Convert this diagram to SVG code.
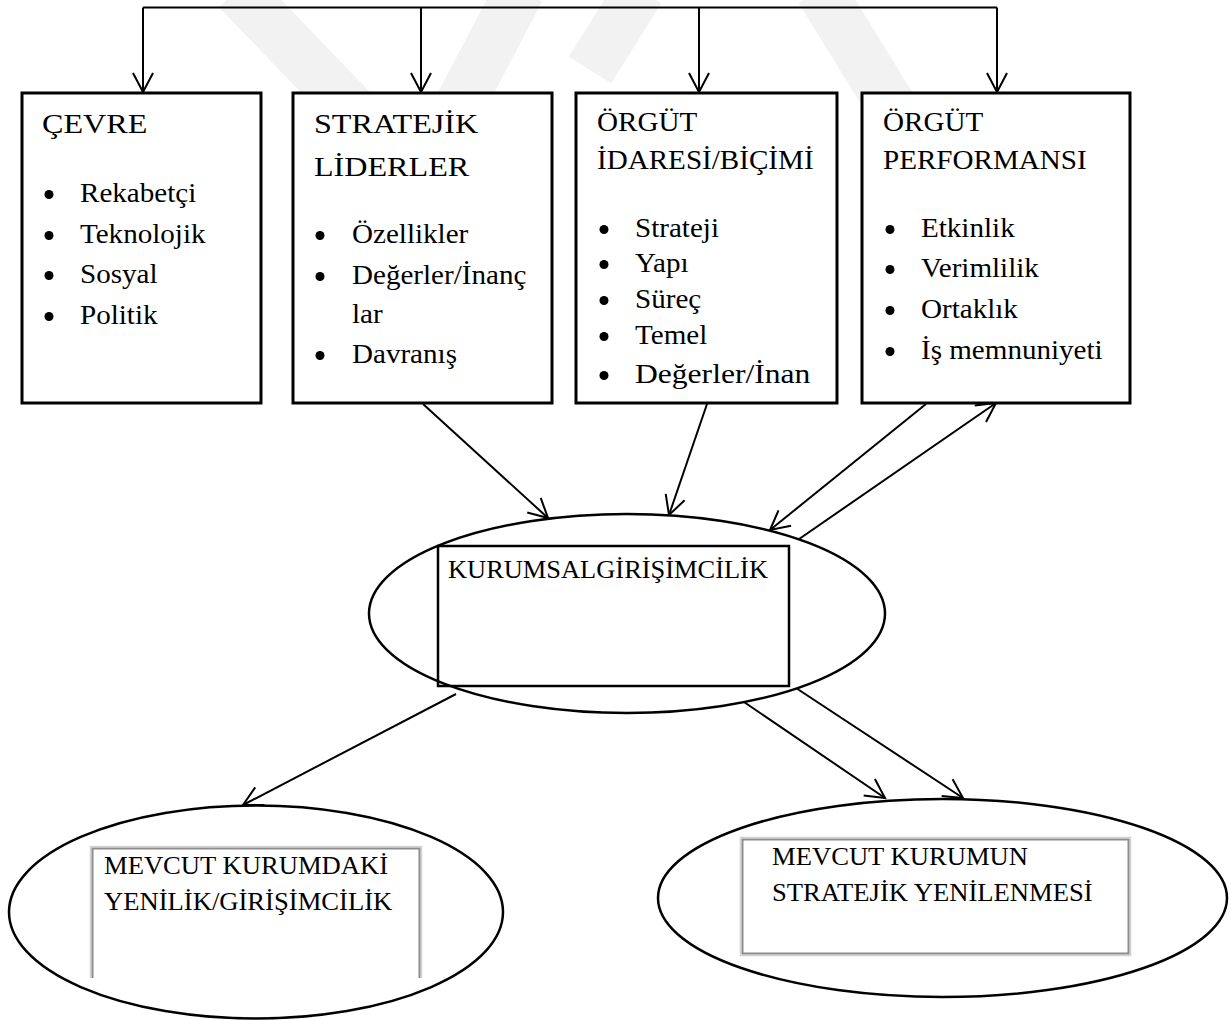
<svg xmlns="http://www.w3.org/2000/svg" width="1231" height="1020" viewBox="0 0 1231 1020">
  <style>
    text { font-family: "Liberation Serif", "Times New Roman", serif; fill: #000;
           transform-box: fill-box; transform-origin: left center; }
    .h1 { font-size: 27.7px; transform: scaleX(1.16); }
    .h2 { font-size: 27px; transform: scaleX(1.078); }
    .it { font-size: 27.7px; transform: scaleX(1.05); }
    .kg { font-size: 25px; transform: scaleX(1.057); }
    .lo { font-size: 25px; transform: scaleX(1.065); }
    .box { fill: #fff; stroke: #000; stroke-width: 3; }
    .ell { fill: #fff; stroke: #000; stroke-width: 2.5; }
    .inner { fill: none; stroke: #000; stroke-width: 2.5; }
    .ginner { fill: none; stroke: #8c8c8c; stroke-width: 2; }
    .ginner2 { fill: none; stroke: #d2d2d2; stroke-width: 1.5; }
    .bul { fill: #000; }
    .wire { fill: none; stroke: #000; stroke-width: 2; }
    .arr { fill: none; stroke: #000; stroke-width: 2; marker-end: url(#vhead); }
    .wm { fill: none; stroke: #f2f2f2; stroke-width: 50; }
  </style>
  <defs>
    <marker id="vhead" viewBox="-24 -14 28 28" refX="0" refY="0" markerWidth="28" markerHeight="28"
            markerUnits="userSpaceOnUse" orient="auto">
      <path d="M-19,-10 L0,0 L-19,10" fill="none" stroke="#000" stroke-width="2"/>
    </marker>
  </defs>

  <rect width="1231" height="1020" fill="#fff"/>

  <!-- faint background emblem -->
  <g id="emblem">
    <polyline class="wm" points="237,-10 420,180 520,-10"/>
    <polyline class="wm" points="820,-10 900,120"/>
    <polyline class="wm" points="640,-10 590,70"/>
  </g>

  <!-- connectors -->
  <g id="connectors">
    <path class="wire" d="M143,7.5 H997"/>
    <path class="arr" d="M143,7.5 V92"/>
    <path class="arr" d="M421,7.5 V92"/>
    <path class="arr" d="M699,7.5 V92"/>
    <path class="arr" d="M997,7.5 V92"/>
    <path class="arr" d="M423,404 L548,518"/>
    <path class="arr" d="M707,404 L669,515"/>
    <path class="arr" d="M926,404 L770,530"/>
    <path class="arr" d="M789,546 L996,403"/>
    <path class="arr" d="M456,694 L243,805"/>
    <path class="arr" d="M744,702 L885,798"/>
    <path class="arr" d="M796,688 L963,798"/>
  </g>

  <!-- ÇEVRE -->
  <g id="cevre">
    <rect class="box" x="22" y="93" width="239" height="310"/>
    <text class="h1" x="42" y="133">ÇEVRE</text>
    <circle class="bul" cx="49" cy="194.5" r="4.5"/>
    <circle class="bul" cx="49" cy="235.5" r="4.5"/>
    <circle class="bul" cx="49" cy="275.5" r="4.5"/>
    <circle class="bul" cx="49" cy="316.5" r="4.5"/>
    <text class="it" x="80" y="202">Rekabetçi</text>
    <text class="it" x="80" y="243">Teknolojik</text>
    <text class="it" x="80" y="283">Sosyal</text>
    <text class="it" x="80" y="324">Politik</text>
  </g>

  <!-- STRATEJİK LİDERLER -->
  <g id="stratejik-liderler">
    <rect class="box" x="293" y="93" width="259" height="310"/>
    <text class="h1" x="314" y="133">STRATEJİK</text>
    <text class="h1" x="314" y="176">LİDERLER</text>
    <circle class="bul" cx="320" cy="235.5" r="4.5"/>
    <circle class="bul" cx="320" cy="276.5" r="4.5"/>
    <circle class="bul" cx="320" cy="355.5" r="4.5"/>
    <text class="it" x="352" y="243">Özellikler</text>
    <text class="it" x="352" y="284">Değerler/İnanç</text>
    <text class="it" x="352" y="323">lar</text>
    <text class="it" x="352" y="363">Davranış</text>
  </g>

  <!-- ÖRGÜT İDARESİ/BİÇİMİ -->
  <g id="orgut-idaresi">
    <rect class="box" x="576" y="93" width="261" height="310"/>
    <text class="h2" x="597" y="131">ÖRGÜT</text>
    <text class="h2" x="597" y="169">İDARESİ/BİÇİMİ</text>
    <circle class="bul" cx="604" cy="229.5" r="4.5"/>
    <circle class="bul" cx="604" cy="264.5" r="4.5"/>
    <circle class="bul" cx="604" cy="300.5" r="4.5"/>
    <circle class="bul" cx="604" cy="336.5" r="4.5"/>
    <circle class="bul" cx="604" cy="375.5" r="4.5"/>
    <text class="it" x="635" y="237">Strateji</text>
    <text class="it" x="635" y="272">Yapı</text>
    <text class="it" x="635" y="308">Süreç</text>
    <text class="it" x="635" y="344">Temel</text>
    <text class="it" x="635" y="383" textLength="167" lengthAdjust="spacingAndGlyphs">Değerler/İnan</text>
  </g>

  <!-- ÖRGÜT PERFORMANSI -->
  <g id="orgut-performansi">
    <rect class="box" x="862" y="93" width="268" height="310"/>
    <text class="h2" x="883" y="131">ÖRGÜT</text>
    <text class="h2" x="883" y="169">PERFORMANSI</text>
    <circle class="bul" cx="890" cy="229.5" r="4.5"/>
    <circle class="bul" cx="890" cy="269.5" r="4.5"/>
    <circle class="bul" cx="890" cy="310.5" r="4.5"/>
    <circle class="bul" cx="890" cy="351.5" r="4.5"/>
    <text class="it" x="921" y="237">Etkinlik</text>
    <text class="it" x="921" y="277">Verimlilik</text>
    <text class="it" x="921" y="318">Ortaklık</text>
    <text class="it" x="921" y="359">İş memnuniyeti</text>
  </g>

  <!-- KURUMSAL GİRİŞİMCİLİK -->
  <g id="kurumsal-girisimcilik">
    <ellipse class="ell" cx="627" cy="613.5" rx="258" ry="99.5"/>
    <rect class="inner" x="438" y="546" width="351" height="140"/>
    <text class="kg" x="448" y="578">KURUMSALGİRİŞİMCİLİK</text>
  </g>

  <!-- MEVCUT KURUMDAKİ YENİLİK/GİRİŞİMCİLİK -->
  <g id="yenilik-girisimcilik">
    <ellipse class="ell" cx="256" cy="912" rx="247" ry="106.5"/>
    <path class="ginner2" d="M90.5,978 V846.5 H421.5 V978"/>
    <path class="ginner" d="M92.5,978 V848.5 H419.5 V978"/>
    <text class="lo" x="104" y="874">MEVCUT KURUMDAKİ</text>
    <text class="lo" x="104" y="910">YENİLİK/GİRİŞİMCİLİK</text>
  </g>

  <!-- MEVCUT KURUMUN STRATEJİK YENİLENMESİ -->
  <g id="stratejik-yenilenme">
    <ellipse class="ell" cx="942.5" cy="898" rx="284.5" ry="99"/>
    <rect class="ginner2" x="740.5" y="837.5" width="390" height="118"/>
    <rect class="ginner" x="742.5" y="839.5" width="386" height="114"/>
    <text class="lo" x="772" y="865">MEVCUT KURUMUN</text>
    <text class="lo" x="772" y="901">STRATEJİK YENİLENMESİ</text>
  </g>
</svg>
